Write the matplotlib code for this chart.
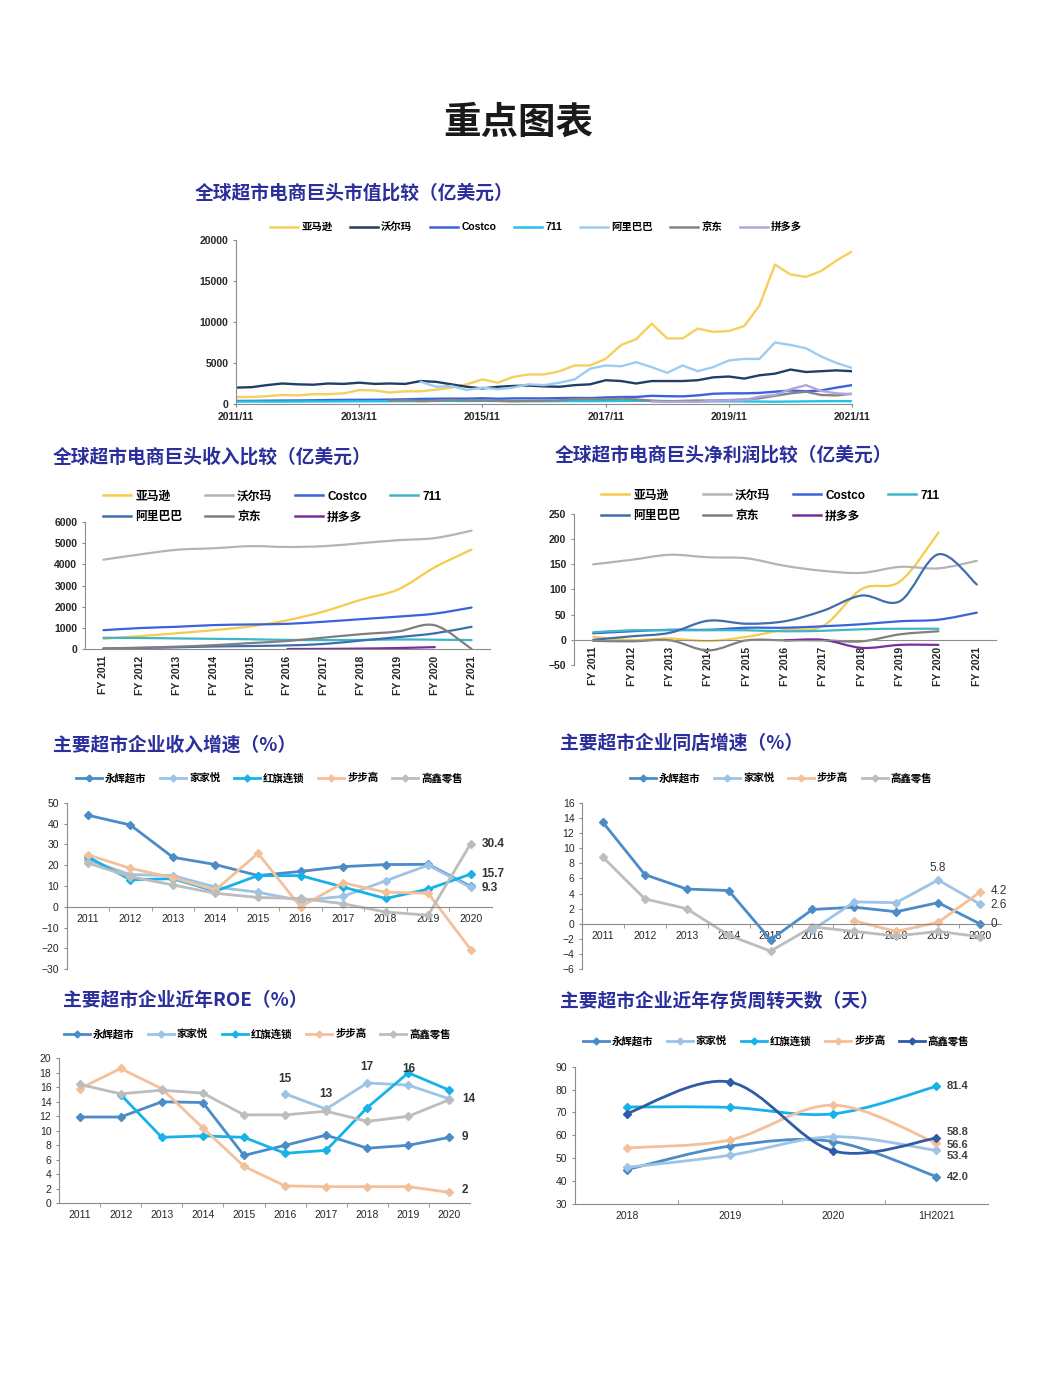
import numpy as np
import pandas as pd
import matplotlib
matplotlib.use("Agg")
import matplotlib.pyplot as plt
from matplotlib.path import Path
from matplotlib.patches import PathPatch
from matplotlib.lines import Line2D

plt.rcParams["font.family"] = ["Liberation Sans", "Noto Sans CJK SC", "DejaVu Sans"]

# ---------- data: market cap (quarterly, 亿美元) ----------
cap_dates = pd.date_range("2011-11-01", "2021-11-01", freq="3MS")
cap_amazon = [850, 850, 950, 1100, 1050, 1200, 1200, 1300, 1700, 1650, 1400, 1550, 1550,
              1750, 2000, 2400, 3000, 2600, 3300, 3600, 3600, 4000, 4700, 4700, 5500,
              7200, 7900, 9800, 8000, 8000, 9200, 8800, 8900, 9500, 12000, 17000, 15800,
              15500, 16200, 17500, 18600]
cap_walmart = [2000, 2050, 2300, 2500, 2400, 2350, 2500, 2450, 2600, 2450, 2500, 2450, 2800,
               2700, 2400, 2100, 1900, 2100, 2200, 2250, 2150, 2100, 2300, 2400, 2900,
               2800, 2500, 2800, 2800, 2800, 2900, 3250, 3350, 3100, 3500, 3700, 4200,
               3900, 4000, 4100, 4000]
cap_costco = [370, 380, 400, 420, 430, 450, 480, 500, 510, 520, 540, 570, 620,
              640, 660, 650, 700, 640, 680, 690, 680, 720, 740, 720, 800,
              850, 860, 1000, 950, 930, 1050, 1250, 1300, 1300, 1350, 1500, 1650,
              1550, 1650, 2000, 2300]
cap_711 = [300, 300, 290, 290, 300, 310, 310, 320, 330, 330, 340, 350, 360,
           370, 380, 360, 380, 370, 360, 350, 340, 350, 360, 350, 360,
           380, 390, 380, 360, 340, 330, 320, 330, 310, 300, 280, 300,
           320, 340, 350, 340]
cap_alibaba = [np.nan] * 12 + [2700, 2100, 2200, 1700, 2000, 1800, 2000, 2400, 2300,
                               2600, 3000, 4300, 4700, 4600, 5100, 4500, 3800, 4700, 4000,
                               4500, 5300, 5500, 5500, 7500, 7200, 6800, 5800, 5000, 4400]
cap_jd = [np.nan] * 10 + [400, 450, 350, 400, 500, 400, 450, 380, 330, 370, 380,
                          450, 600, 600, 550, 650, 550, 400, 300, 380, 420, 420, 480,
                          550, 700, 1000, 1300, 1500, 1100, 1050, 1250]
cap_pdd = [np.nan] * 27 + [300, 250, 280, 250, 380, 450, 450, 900, 1100, 1800,
                           2300, 1600, 1300, 1200]
cap_ticks = ["2011/11", "2013/11", "2015/11", "2017/11", "2019/11", "2021/11"]

# ---------- data: revenue & net profit (亿美元) ----------
fy_labels = ["FY 2011", "FY 2012", "FY 2013", "FY 2014", "FY 2015", "FY 2016",
             "FY 2017", "FY 2018", "FY 2019", "FY 2020", "FY 2021"]
nan = np.nan
rev_amazon = [480, 610, 745, 890, 1070, 1360, 1780, 2330, 2810, 3860, 4700]
rev_walmart = [4220, 4470, 4690, 4760, 4860, 4820, 4860, 5000, 5140, 5240, 5590]
rev_costco = [890, 990, 1050, 1130, 1160, 1190, 1290, 1410, 1530, 1670, 1960]
rev_711 = [530, 520, 500, 480, 460, 430, 420, 430, 450, 440, 420]
rev_alibaba = [20, 50, 80, 120, 140, 170, 240, 400, 560, 740, 1050]
rev_jd = [30, 60, 110, 180, 280, 380, 540, 700, 830, 1120, 0]
rev_pdd = [nan, nan, nan, nan, nan, 0, 5, 20, 45, 90, nan]

np_amazon = [6, -0.4, 2.7, -2.4, 6, 20, 28, 101, 116, 213, nan]
np_walmart = [150, 159, 169, 164, 162, 147, 137, 133, 145, 142, 157]
np_costco = [13, 17, 20, 20, 24, 24, 27, 31, 37, 40, 54]
np_711 = [15, 19, 19, 19, 19, 17, 18, 21, 22, 22, nan]
np_alibaba = [0, 7, 14, 38, 32, 37, 58, 88, 77, 170, 110]
np_jd = [-2, -3, -1, -21, -1, -1, -1, -3, 11, 17, nan]
np_pdd = [nan, nan, nan, nan, nan, -1, 0, -16, -10, -10, nan]

# ---------- data: supermarkets ----------
years = ["2011", "2012", "2013", "2014", "2015", "2016", "2017", "2018", "2019", "2020"]
gr_yonghui = [44, 39.3, 23.8, 20.3, 15, 17, 19.3, 20.3, 20.4, 9.8]
gr_jiajiayue = [22.5, 15.5, 15, 9.5, 7, 3, 5, 12.5, 20, 9.3]
gr_hongqi = [24, 13, 13.5, 7.5, 15, 15, 9.5, 4, 8.5, 15.7]
gr_bubugao = [25, 18.5, 14, 8, 25.7, 0, 11.5, 7, 6.5, -20.5]
gr_sunart = [21, 14.5, 10.5, 6.5, 4.5, 4, 1.5, -2.5, -4, 30.4]

ss_yonghui = [13.4, 6.5, 4.6, 4.4, -2.1, 1.9, 2.2, 1.6, 2.8, 0]
ss_jiajiayue = [nan, nan, nan, nan, nan, -0.8, 2.9, 2.8, 5.8, 2.6]
ss_bubugao = [nan, nan, nan, nan, nan, nan, 0.4, -1.0, 0.2, 4.2]
ss_sunart = [8.8, 3.3, 2.0, -1.5, -3.6, -0.4, -1.0, -1.6, -1.0, -1.7]

roe_yonghui = [11.9, 11.9, 14, 13.9, 6.6, 8, 9.4, 7.6, 8, 9.1]
roe_jiajiayue = [nan, nan, nan, nan, nan, 15.1, 13, 16.6, 16.3, 14.4]
roe_hongqi = [nan, 15, 9.1, 9.3, 9.1, 6.9, 7.3, 13.2, 18, 15.6]
roe_bubugao = [15.8, 18.6, 15.8, 10.4, 5.1, 2.4, 2.3, 2.3, 2.3, 1.5]
roe_sunart = [16.4, 15.1, 15.6, 15.2, 12.2, 12.2, 12.7, 11.3, 12, 14.3]

inv_periods = ["2018", "2019", "2020", "1H2021"]
inv_yonghui = [45, 55.3, 57.3, 42.0]
inv_jiajiayue = [46, 51.3, 59.4, 53.4]
inv_hongqi = [72.4, 72.2, 69.4, 81.4]
inv_bubugao = [54.5, 58, 73.2, 56.6]
inv_sunart = [69.5, 83.3, 53.2, 58.8]

# ---------- style ----------
W, H = 1044, 1392
TITLE_C = "#2B2F9C"
SPINE_C = "#8C8C8C"
TXT_C = "#262626"
C_YH, C_JJY, C_HQ, C_BBG, C_GX = "#4A8BC8", "#9DC3E6", "#17B2E8", "#F4C09A", "#BDBDBD"

fig = plt.figure(figsize=(W / 100, H / 100), dpi=100)


def fpos(x, y):
    return (x / W, 1 - y / H)


def axes_px(l, t, r, b):
    ax = fig.add_axes([l / W, 1 - b / H, (r - l) / W, (b - t) / H])
    for s in ["top", "right"]:
        ax.spines[s].set_visible(False)
    for s in ["left", "bottom"]:
        ax.spines[s].set_color(SPINE_C)
        ax.spines[s].set_linewidth(0.8)
    ax.patch.set_alpha(0)
    return ax


def smooth(ax, x, y, color, lw=1.5, zorder=2):
    # smoothed line like Excel: Catmull-Rom segments drawn as cubic Bezier paths
    x = np.asarray(x, float)
    y = np.asarray(y, float)
    ok = np.isfinite(y)
    p = np.column_stack([x[ok], y[ok]])
    n = len(p)
    verts, codes = [p[0]], [Path.MOVETO]
    for i in range(n - 1):
        p0 = p[i - 1] if i > 0 else p[i]
        p3 = p[i + 2] if i + 2 < n else p[i + 1]
        verts += [p[i] + (p[i + 1] - p0) / 6, p[i + 1] - (p3 - p[i]) / 6, p[i + 1]]
        codes += [Path.CURVE4] * 3
    ax.add_patch(PathPatch(Path(verts, codes), fill=False, edgecolor=color,
                           lw=lw, zorder=zorder, capstyle="round"))


def title(x, y, s):
    fig.text(*fpos(x, y), s, ha="left", va="center", fontsize=13.5, weight="bold",
             color=TITLE_C, family=["Noto Sans CJK SC"])


LEG_PROP = {"weight": "bold", "size": 7.5}
LEG_BIG = {"weight": "bold", "size": 8.5}

fig.text(*fpos(518, 122), "重点图表", ha="center", va="center", fontsize=27,
         weight="bold", color="#1A1A1A", family=["Noto Sans CJK SC"])

# ---------- 1. market cap ----------
title(195, 193, "全球超市电商巨头市值比较（亿美元）")
ax = axes_px(236, 240, 852, 404)
cap_series = [("亚马逊", cap_amazon, "#F6CF5C"), ("沃尔玛", cap_walmart, "#213F66"),
              ("Costco", cap_costco, "#3A62DA"), ("711", cap_711, "#22C3EA"),
              ("阿里巴巴", cap_alibaba, "#9DCCF2"), ("京东", cap_jd, "#858585"),
              ("拼多多", cap_pdd, "#B3A6DC")]
order = [3, 5, 1, 4, 6, 2, 0]
for k in order:
    name, vals, c = cap_series[k]
    ax.plot(cap_dates, vals, color=c, lw=1.7, zorder=2 + k * 0.1)
handles = [Line2D([], [], color=c, lw=1.8) for _, _, c in cap_series]
fig.legend(handles, [n for n, _, _ in cap_series], loc="center", bbox_to_anchor=fpos(536, 227),
           ncol=7, frameon=False, prop=LEG_PROP, handlelength=2.7, columnspacing=1.7,
           handletextpad=0.3)
ax.set_xlim(cap_dates[0], cap_dates[-1])
ax.set_ylim(0, 20000)
ax.set_yticks(range(0, 20001, 5000))
tick_dates = pd.to_datetime([t.replace("/", "-") + "-01" for t in cap_ticks])
ax.set_xticks(tick_dates)
ax.set_xticklabels(cap_ticks)
ax.tick_params(labelsize=7.5, colors=TXT_C, length=2, color=SPINE_C)
for lab in ax.get_xticklabels() + ax.get_yticklabels():
    lab.set_fontweight("bold")

# ---------- 2. revenue / 3. net profit ----------
comp_names = ["亚马逊", "沃尔玛", "Costco", "711", "阿里巴巴", "京东", "拼多多"]
comp_colors = ["#F6CB4C", "#B4B4B4", "#3A62DA", "#3DB6C6", "#3E6EAE", "#7F7F7F", "#7B2C9E"]
leg_order = [0, 4, 1, 5, 2, 6, 3]


def company_panel(box, ylim, ystep, series, legend_xy):
    ax = axes_px(*box)
    xs = np.arange(len(fy_labels))
    for vals, c in zip(series, comp_colors):
        smooth(ax, xs, vals, c, lw=1.6)
    ax.set_xlim(-0.5, len(fy_labels) - 0.5)
    ax.set_ylim(*ylim)
    ax.set_yticks(np.arange(ylim[0], ylim[1] + 1, ystep))
    ax.spines["bottom"].set_position(("data", 0))
    ax.set_xticks(xs)
    ax.set_xticklabels(fy_labels, rotation=90, fontweight="bold")
    ax.tick_params(axis="x", length=0, labelsize=7.5, colors=TXT_C, pad=5)
    ax.tick_params(axis="y", length=2, labelsize=7.5, colors=TXT_C, color=SPINE_C)
    for lab in ax.get_yticklabels():
        lab.set_fontweight("bold")
    hs = [Line2D([], [], color=comp_colors[i], lw=1.8) for i in leg_order]
    fig.legend(hs, [comp_names[i] for i in leg_order], loc="center",
               bbox_to_anchor=fpos(*legend_xy), ncol=4, frameon=False, prop=LEG_BIG,
               handlelength=2.4, columnspacing=1.9, handletextpad=0.35, labelspacing=0.75)
    return ax


title(53, 457, "全球超市电商巨头收入比较（亿美元）")
company_panel((85, 522, 490, 649), (0, 6000), 1000,
              [rev_amazon, rev_walmart, rev_costco, rev_711, rev_alibaba, rev_jd, rev_pdd],
              (272, 507))
title(555, 455, "全球超市电商巨头净利润比较（亿美元）")
company_panel((574, 514, 996, 665), (-50, 250), 50,
              [np_amazon, np_walmart, np_costco, np_711, np_alibaba, np_jd, np_pdd],
              (770, 506))


# ---------- 4-7. supermarkets ----------
def market_panel(box, cats, ylim, ystep, series, legend_xy, zero_axis=False,
                 curved=False, tickdir="out"):
    ax = axes_px(*box)
    xs = np.arange(len(cats))
    for name, vals, c in series:
        if curved:
            smooth(ax, xs, vals, c, lw=2.0)
            ax.plot(xs, vals, ls="none", marker="D", ms=4, color=c, zorder=3)
        else:
            ax.plot(xs, vals, color=c, lw=2.0, marker="D", ms=4)
    ax.set_xlim(-0.5, len(cats) - 0.5)
    ax.set_ylim(*ylim)
    ax.set_yticks(np.arange(ylim[0], ylim[1] + 0.1, ystep))
    if zero_axis:
        ax.spines["bottom"].set_position(("data", 0))
    ax.set_xticks(xs)
    ax.set_xticklabels(cats)
    ax.set_xticks(np.arange(0.5, len(cats) - 0.5), minor=True)
    ax.tick_params(axis="x", which="major", length=0, labelsize=7.5, colors=TXT_C, pad=5)
    ax.tick_params(axis="x", which="minor", length=3, color=SPINE_C, direction=tickdir)
    ax.tick_params(axis="y", length=2, labelsize=7.5, colors=TXT_C, color=SPINE_C)
    hs = [Line2D([], [], color=c, lw=2.0, marker="D", ms=3.5) for _, _, c in series]
    fig.legend(hs, [n for n, _, _ in series], loc="center", bbox_to_anchor=fpos(*legend_xy),
               ncol=len(series), frameon=False, prop=LEG_PROP, handlelength=2.5,
               columnspacing=1.3, handletextpad=0.3)
    return ax


LBL = {"fontsize": 8.5, "color": "#333333", "weight": "bold", "va": "center"}
LBL2 = dict(LBL, weight="normal")

title(53, 745, "主要超市企业收入增速（%）")
ax = market_panel((66.5, 802.7, 492, 969.3), years, (-30, 50), 10,
                  [("永辉超市", gr_yonghui, C_YH), ("家家悦", gr_jiajiayue, C_JJY),
                   ("红旗连锁", gr_hongqi, C_HQ), ("步步高", gr_bubugao, C_BBG),
                   ("高鑫零售", gr_sunart, C_GX)], (269, 778), zero_axis=True)
ax.text(9.25, gr_sunart[-1], f"{gr_sunart[-1]:.1f}", **LBL)
ax.text(9.25, gr_hongqi[-1], f"{gr_hongqi[-1]:.1f}", **LBL)
ax.text(9.25, gr_jiajiayue[-1] - 0.5, f"{gr_jiajiayue[-1]:.1f}", **LBL)

title(560, 743, "主要超市企业同店增速（%）")
ax = market_panel((582, 802.7, 1001, 969.3), years, (-6, 16), 2,
                  [("永辉超市", ss_yonghui, C_YH), ("家家悦", ss_jiajiayue, C_JJY),
                   ("步步高", ss_bubugao, C_BBG), ("高鑫零售", ss_sunart, C_GX)],
                  (781, 778), zero_axis=True)
ax.text(8, ss_jiajiayue[-2] + 1.6, f"{ss_jiajiayue[-2]:.1f}", ha="center", **LBL2)
ax.text(9.25, ss_bubugao[-1] + 0.2, f"{ss_bubugao[-1]:.1f}", **LBL2)
ax.text(9.25, ss_jiajiayue[-1] - 0.1, f"{ss_jiajiayue[-1]:.1f}", **LBL2)
ax.text(9.25, ss_yonghui[-1], f"{ss_yonghui[-1]:.0f}", **LBL2)

title(63, 1001, "主要超市企业近年ROE（%）")
ax = market_panel((59, 1058.3, 470, 1203.3), years, (0, 20), 2,
                  [("永辉超市", roe_yonghui, C_YH), ("家家悦", roe_jiajiayue, C_JJY),
                   ("红旗连锁", roe_hongqi, C_HQ), ("步步高", roe_bubugao, C_BBG),
                   ("高鑫零售", roe_sunart, C_GX)], (257, 1034))
for i, dy in [(5, 2.1), (6, 2.1), (7, 2.2), (8, 2.2)]:
    ax.text(i, roe_jiajiayue[i] + dy, f"{roe_jiajiayue[i]:.0f}", ha="center", **LBL)
ax.text(9.3, roe_jiajiayue[-1], f"{roe_jiajiayue[-1]:.0f}", **LBL)
ax.text(9.3, roe_yonghui[-1], f"{roe_yonghui[-1]:.0f}", **LBL)
ax.text(9.3, roe_bubugao[-1] + 0.3, f"{roe_bubugao[-1]:.0f}", **LBL)

title(560, 1001, "主要超市企业近年存货周转天数（天）")
ax = market_panel((575, 1066.7, 988, 1204), inv_periods, (30, 90), 10,
                  [("永辉超市", inv_yonghui, C_YH), ("家家悦", inv_jiajiayue, C_JJY),
                   ("红旗连锁", inv_hongqi, C_HQ), ("步步高", inv_bubugao, C_BBG),
                   ("高鑫零售", inv_sunart, "#2F5BA6")], (776, 1041), curved=True,
                  tickdir="in")
LBL3 = dict(LBL, fontsize=8, color="#404040")
for vals, dy in [(inv_hongqi, 0), (inv_sunart, 2.5), (inv_bubugao, -0.6),
                 (inv_jiajiayue, -2.6), (inv_yonghui, 0)]:
    ax.text(3.1, vals[-1] + dy, f"{vals[-1]:.1f}", **LBL3)

fig.savefig("out.png", dpi=100, facecolor="white")
